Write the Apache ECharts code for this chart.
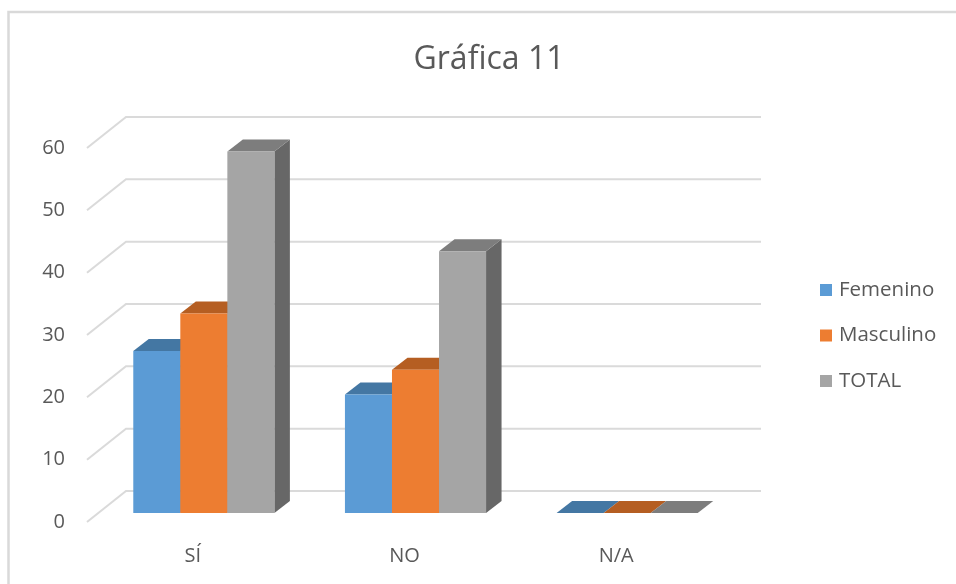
<!DOCTYPE html>
<html><head><meta charset="utf-8">
<style>html,body{margin:0;padding:0;background:#fff}#c{width:956px;height:584px}</style>
<script src="https://cdn.jsdelivr.net/npm/echarts@6/dist/echarts.min.js"></script>
</head><body><div id="c"></div>
<script>
const categories = ['SÍ', 'NO', 'N/A'];
const femenino = [26, 19, 0];
const masculino = [32, 23, 0];
const total = [58, 42, 0];
const yTicks = [0, 10, 20, 30, 40, 50, 60];

const FONT = '"Open Sans", "Noto Sans", sans-serif';
const TEXT = '#595959';
const WALL_DX = 39, WALL_DY = -31;      // floor depth of the 3D box
const BAR_DX = 11, BAR_DY = -9;         // bar front face offset from the front plane
const DEPTH_DX = 15.5, DEPTH_DY = -12;  // depth of a bar
const BAR_FRACTION = 47 / 211.5;

function wallRender(params, api) {
  const rect = params.coordSys;
  const p = api.coord([0, api.value(1)]);
  const y = p[1], x0 = rect.x;
  return {
    type: 'polyline',
    silent: true,
    shape: { points: [[x0, y], [x0 + WALL_DX, y + WALL_DY], [x0 + rect.width + WALL_DX, y + WALL_DY]] },
    style: { fill: null, stroke: '#DADADA', lineWidth: 2 }
  };
}

function barRender(slot, front, top, side) {
  return function (params, api) {
    const cat = api.value(0);
    const c = api.coord([cat, api.value(1)]);
    const b = api.coord([cat, 0]);
    const w = api.size([1, 0])[0] * BAR_FRACTION;
    const xl = c[0] + BAR_DX + (slot - 1.5) * w;
    const xr = xl + w;
    const yt = c[1] + BAR_DY, yb = b[1] + BAR_DY;
    const dx = DEPTH_DX, dy = DEPTH_DY;
    return {
      type: 'group',
      children: [
        { type: 'polygon', shape: { points: [[xr, yt], [xr + dx, yt + dy], [xr + dx, yb + dy], [xr, yb]] }, style: { fill: side } },
        { type: 'polygon', shape: { points: [[xl, yt], [xl + dx, yt + dy], [xr + dx, yt + dy], [xr, yt]] }, style: { fill: top } },
        { type: 'rect', shape: { x: xl, y: yt, width: w, height: yb - yt }, style: { fill: front } }
      ]
    };
  };
}

function barSeries(name, values, slot, front, top, side) {
  return {
    type: 'custom', name, z: 3 + slot,
    itemStyle: { color: front },
    encode: { x: 0, y: 1 },
    data: values.map((v, i) => [i, v]),
    renderItem: barRender(slot, front, top, side)
  };
}

const chart = echarts.init(document.getElementById('c'), null, { renderer: 'canvas' });
chart.setOption({
  animation: false,
  backgroundColor: '#fff',
  title: {
    text: 'Gráfica 11', left: 484, top: 39, textAlign: 'center',
    textStyle: { fontFamily: FONT, fontSize: 32, fontWeight: 'normal', color: TEXT }
  },
  legend: {
    show: true, left: 815, top: 273, orient: 'vertical',
    itemWidth: 12, itemHeight: 12, itemGap: 21.5, icon: 'rect',
    data: ['Femenino', 'Masculino', 'TOTAL'],
    textStyle: { fontFamily: FONT, fontSize: 20.5, color: TEXT, padding: [0, 0, 0, 2], lineHeight: 24 }
  },
  grid: { left: 87, top: 148, width: 635, height: 374, containLabel: false },
  xAxis: {
    type: 'category', data: categories,
    axisLine: { show: false }, axisTick: { show: false },
    axisLabel: { margin: 24, fontFamily: FONT, fontSize: 20, color: TEXT }
  },
  yAxis: {
    type: 'value', min: 0, max: 60, interval: 10,
    axisLine: { show: false }, axisTick: { show: false }, splitLine: { show: false },
    axisLabel: { margin: 22, fontFamily: FONT, fontSize: 20, color: TEXT, padding: [0, 0, 4, 0] }
  },
  graphic: [
    { type: 'polyline', silent: true, shape: { points: [[8.5, 584], [8.5, 12], [956, 12]] }, style: { fill: null, stroke: '#D9D9D9', lineWidth: 2.5 } }
  ],
  series: [
    { type: 'custom', name: 'wall', z: 1, silent: true, encode: { x: 0, y: 1 }, data: yTicks.map(t => [0, t]), renderItem: wallRender },
    barSeries('Femenino', femenino, 0, '#5B9BD5', '#4477A3', '#3F6F9C'),
    barSeries('Masculino', masculino, 1, '#ED7D31', '#B55E22', '#A85620'),
    barSeries('TOTAL', total, 2, '#A5A5A5', '#7D7D7D', '#676767')
  ]
});
</script></body></html>
